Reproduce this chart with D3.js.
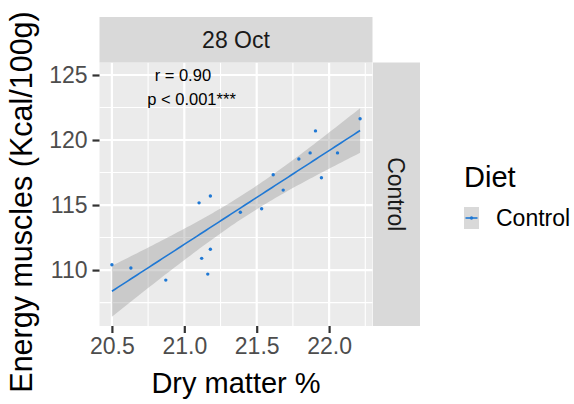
<!DOCTYPE html>
<html>
<head>
<meta charset="utf-8">
<script src="https://cdn.jsdelivr.net/npm/d3@7"></script>
<style>
  html, body { margin: 0; padding: 0; background: #fff; }
  svg { display: block; font-family: "Liberation Sans", Arial, sans-serif; }
</style>
</head>
<body>
<svg id="chart" width="574" height="404"></svg>
<script>
// Dry matter (%) and muscle energy (Kcal/100g), Control diet, 28 Oct
const dryMatter = [20.500, 20.631, 20.872, 21.102, 21.180, 21.120, 21.180, 21.162, 21.387,
                   21.534, 21.614, 21.683, 21.791, 21.869, 21.906, 21.947, 22.058, 22.214];
const energy    = [110.41, 110.16, 109.23, 115.17, 115.69, 110.90, 111.60, 109.69, 114.45,
                   114.71, 117.33, 116.15, 118.54, 119.01, 120.70, 117.10, 119.01, 121.63];
const xTicks = [20.5, 21.0, 21.5, 22.0];
const xMinor = [20.25, 20.75, 21.25, 21.75, 22.25];
const yTicks = [110, 115, 120, 125];
const yMinor = [107.5, 112.5, 117.5, 122.5];
const facetCol = "28 Oct";
const facetRow = "Control";
const dietLevels = ["Control"];
const statLabels = [{ text: "r = 0.90", x: 20.99, y: 125.0 },
                    { text: "p < 0.001***", x: 21.05, y: 123.1 }];

const blue = "#1F78D4";
const svg = d3.select("#chart");

const panel = { left: 99.5, right: 372.5, top: 62.5, bottom: 326 };
const xExt = d3.extent(dryMatter);
const xPad = (xExt[1] - xExt[0]) * 0.05;
const x = d3.scaleLinear().domain([xExt[0] - xPad, xExt[1] + xPad]).range([panel.left, panel.right]);
const y = d3.scaleLinear().domain([105.7, 125.96]).range([panel.bottom, panel.top]);

// Linear fit with 95% confidence band
const n = dryMatter.length;
const mx = d3.mean(dryMatter), my = d3.mean(energy);
let sxx = 0, sxy = 0;
for (let i = 0; i < n; i++) { sxx += (dryMatter[i] - mx) ** 2; sxy += (dryMatter[i] - mx) * (energy[i] - my); }
const slope = sxy / sxx, intercept = my - slope * mx;
let sse = 0;
for (let i = 0; i < n; i++) sse += (energy[i] - (intercept + slope * dryMatter[i])) ** 2;
const s = Math.sqrt(sse / (n - 2));
const tCrit = 2.1199; // t(0.975, 16)
const fitPts = d3.range(80).map(i => {
  const xv = xExt[0] + (xExt[1] - xExt[0]) * i / 79;
  const yv = intercept + slope * xv;
  const se = s * Math.sqrt(1 / n + (xv - mx) ** 2 / sxx);
  return { x: xv, y: yv, lo: yv - tCrit * se, hi: yv + tCrit * se };
});

// Panel background and grid
svg.append("rect").attr("x", panel.left).attr("y", panel.top)
  .attr("width", panel.right - panel.left).attr("height", panel.bottom - panel.top).attr("fill", "#EBEBEB");
const grid = svg.append("g");
xMinor.filter(v => v >= x.domain()[0] && v <= x.domain()[1]).forEach(v => grid.append("line")
  .attr("x1", x(v)).attr("x2", x(v)).attr("y1", panel.top).attr("y2", panel.bottom)
  .attr("stroke", "#fff").attr("stroke-width", 1.1));
yMinor.forEach(v => grid.append("line")
  .attr("x1", panel.left).attr("x2", panel.right).attr("y1", y(v)).attr("y2", y(v))
  .attr("stroke", "#fff").attr("stroke-width", 1.1));
xTicks.forEach(v => grid.append("line")
  .attr("x1", x(v)).attr("x2", x(v)).attr("y1", panel.top).attr("y2", panel.bottom)
  .attr("stroke", "#fff").attr("stroke-width", 2.2));
yTicks.forEach(v => grid.append("line")
  .attr("x1", panel.left).attr("x2", panel.right).attr("y1", y(v)).attr("y2", y(v))
  .attr("stroke", "#fff").attr("stroke-width", 2.2));

// Confidence ribbon and fitted line
svg.append("path").datum(fitPts)
  .attr("d", d3.area().x(d => x(d.x)).y0(d => y(d.lo)).y1(d => y(d.hi)))
  .attr("fill", "#999999").attr("fill-opacity", 0.4);
svg.append("path").datum(fitPts)
  .attr("d", d3.line().x(d => x(d.x)).y(d => y(d.y)))
  .attr("fill", "none").attr("stroke", blue).attr("stroke-width", 1.6);

// Observations
svg.append("g").selectAll("circle").data(d3.range(n)).join("circle")
  .attr("cx", i => x(dryMatter[i])).attr("cy", i => y(energy[i])).attr("r", 1.7).attr("fill", blue);

// Correlation labels
svg.append("g").selectAll("text").data(statLabels).join("text")
  .attr("x", d => x(d.x)).attr("y", d => y(d.y)).attr("dy", "0.35em")
  .attr("text-anchor", "middle").attr("font-size", 16.5).attr("fill", "#000")
  .text(d => d.text);

// Axes
const xAxis = d3.axisBottom(x).tickValues(xTicks).tickFormat(d3.format(".1f")).tickSize(7).tickPadding(5);
const gx = svg.append("g").attr("transform", `translate(0,${panel.bottom})`).call(xAxis);
const yAxis = d3.axisLeft(y).tickValues(yTicks).tickFormat(d3.format("d")).tickSize(7).tickPadding(5);
const gy = svg.append("g").attr("transform", `translate(${panel.left},0)`).call(yAxis);
[gx, gy].forEach(g => {
  g.select(".domain").remove();
  g.selectAll(".tick line").attr("stroke", "#333").attr("stroke-width", 2.2);
  g.selectAll(".tick text").attr("fill", "#4D4D4D").attr("font-size", 23)
    .attr("font-family", "Liberation Sans, Arial, sans-serif");
});

// Axis titles
svg.append("text").attr("x", (panel.left + panel.right) / 2).attr("y", 393)
  .attr("text-anchor", "middle").attr("font-size", 29).attr("fill", "#000").text("Dry matter %");
svg.append("text").attr("transform", "translate(31.5,202) rotate(-90)")
  .attr("text-anchor", "middle").attr("font-size", 30.5).attr("fill", "#000").text("Energy muscles (Kcal/100g)");

// Facet strips
svg.append("rect").attr("x", panel.left).attr("y", 17).attr("width", panel.right - panel.left)
  .attr("height", panel.top - 17).attr("fill", "#D9D9D9");
svg.append("text").attr("x", (panel.left + panel.right) / 2).attr("y", (17 + panel.top) / 2).attr("dy", "0.35em")
  .attr("text-anchor", "middle").attr("font-size", 23).attr("fill", "#1A1A1A").text(facetCol);
svg.append("rect").attr("x", panel.right + 0.5).attr("y", panel.top).attr("width", 47)
  .attr("height", panel.bottom - panel.top).attr("fill", "#D9D9D9");
svg.append("text").attr("transform", `translate(${panel.right + 24},${(panel.top + panel.bottom) / 2}) rotate(90)`)
  .attr("dy", "0.35em").attr("text-anchor", "middle").attr("font-size", 23).attr("fill", "#1A1A1A").text(facetRow);

// Legend
const lg = svg.append("g").attr("transform", "translate(464,0)");
lg.append("text").attr("x", 0).attr("y", 187).attr("font-size", 29).attr("fill", "#000").text("Diet");
dietLevels.forEach((lvl, i) => {
  const ky = 207 + i * 24;
  lg.append("rect").attr("x", 0).attr("y", ky).attr("width", 15).attr("height", 22).attr("fill", "#D9D9D9");
  lg.append("line").attr("x1", 1.5).attr("x2", 13.5).attr("y1", ky + 11).attr("y2", ky + 11)
    .attr("stroke", blue).attr("stroke-width", 1.6);
  lg.append("circle").attr("cx", 7.5).attr("cy", ky + 11).attr("r", 1.7).attr("fill", blue);
  lg.append("text").attr("x", 32).attr("y", ky + 11).attr("dy", "0.35em").attr("font-size", 23)
    .attr("fill", "#000").text(lvl);
});
</script>
</body>
</html>
